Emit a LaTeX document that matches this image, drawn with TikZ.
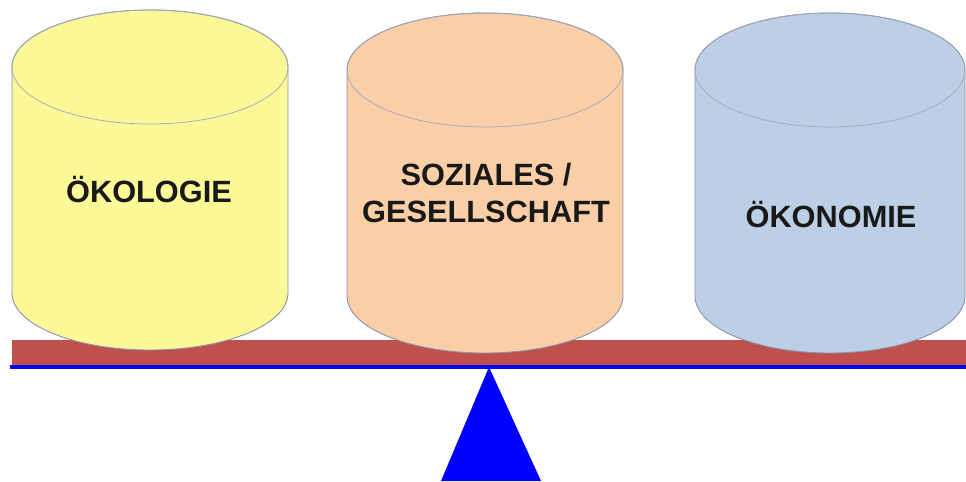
\documentclass[tikz,border=0pt]{standalone}
\usepackage{fontspec}
\setmainfont{Liberation Sans}
\usepackage{tikz}
\usetikzlibrary{calc}
\definecolor{oekogelb}{RGB}{251,248,152}
\definecolor{sozialorange}{RGB}{250,207,168}
\definecolor{oekoblau}{RGB}{188,207,229}
\definecolor{balkenrot}{RGB}{192,80,77}
\definecolor{randgrau}{RGB}{135,145,170}
\tikzstyle{tonne}=[draw=randgrau, line width=0.5pt]
\tikzstyle{deckel}=[draw=randgrau!80, line width=0.4pt]
\tikzstyle{schrift}=[font=\bfseries\fontsize{17.5}{21}\selectfont, align=center, text=black!90]

\begin{document}
\begin{tikzpicture}[x=0.02cm, y=0.02cm]
\useasboundingbox (0,0) rectangle (966,481);
% Waagebalken
\fill[balkenrot] (12,115) rectangle (966,141);
\coordinate (bl) at (10,114);
\coordinate (br) at (966,114);
\draw[blue, line width=2pt] (bl) -- (br);
% Spitze
\coordinate (spitze) at (489,114);
\fill[blue] (spitze) -- (441,0) -- (541,0) -- cycle;
% Tonnen
\foreach \c/\r/\t/\b/\col in {150/138/414/188/oekogelb, 485/138/411/185/sozialorange, 830/135/411/185/oekoblau} {
	\filldraw[tonne, fill=\col] (\c-\r,\t) -- (\c-\r,\b)
		arc[start angle=180, end angle=360, x radius=\r, y radius=57]
		-- (\c+\r,\t) arc[start angle=0, end angle=180, x radius=\r, y radius=57] -- cycle;
	\draw[deckel] (\c,\t) ellipse[x radius=\r, y radius=57];
}
\node[schrift] (oekologie) at (149,291) {ÖKOLOGIE};
\node[schrift] (soziales) at (486,288) {SOZIALES /\\GESELLSCHAFT};
\node[schrift] (oekonomie) at (831,266) {ÖKONOMIE};
\end{tikzpicture}
\end{document}
